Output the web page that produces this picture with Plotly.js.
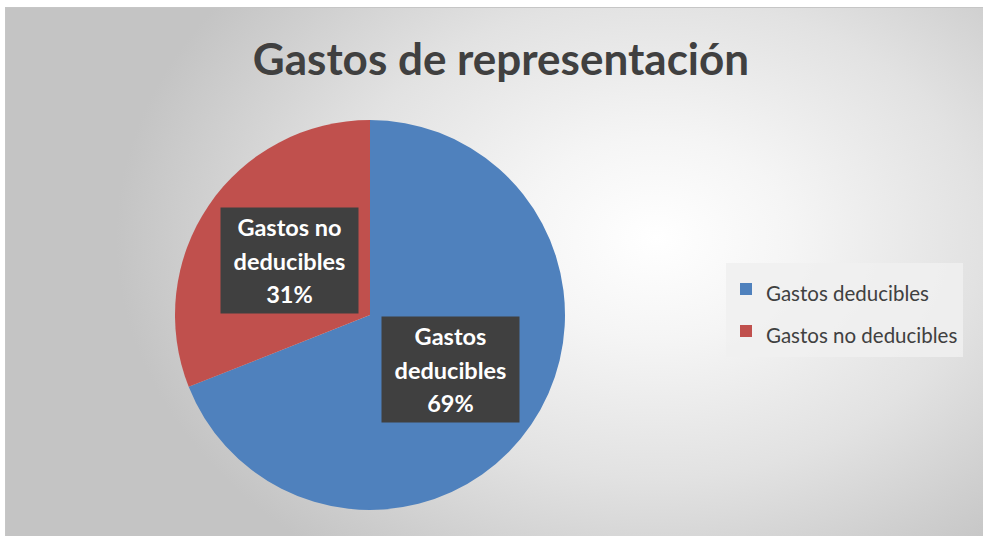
<!DOCTYPE html>
<html>
<head>
<meta charset="utf-8">
<script src="https://cdn.plot.ly/plotly-3.0.1.min.js"></script>
<style>
  html, body { margin: 0; padding: 0; background: #ffffff; }
  #bg {
    position: absolute; left: 5px; top: 7px; width: 978px; height: 529px;
    border-top: 1px solid #c6c6c6; border-left: 1px solid #c6c6c6;
    background: radial-gradient(ellipse 540px 400px at 650px 230px, #ffffff 0%, #f5f5f5 25%, #e2e2e2 60%, #cfcfcf 85%, #c4c4c4 100%);
  }
  #chart { position: absolute; left: 0; top: 0; width: 983px; height: 536px; }
</style>
</head>
<body>
<div id="bg"></div>
<div id="chart"></div>
<script>
// ---- data ----
const categories = ["Gastos deducibles", "Gastos no deducibles"];
const values = [69, 31];
const sliceColors = ["#4F81BD", "#C0504D"];
const chartTitle = "Gastos de representación";

// ---- layout geometry ----
const W = 983, H = 536;
const domX = [175 / W, 565 / W];
const domY = [26 / H, 416 / H];

const legendLabels = categories.map(c => '<span style="font-size:20.5px">' + c + '</span>');

const trace = {
  type: "pie",
  labels: legendLabels,
  values: values,
  sort: false,
  direction: "clockwise",
  rotation: 0,
  marker: { colors: sliceColors, line: { width: 0 } },
  textinfo: "none",
  hoverinfo: "none",
  domain: { x: domX, y: domY },
  showlegend: true
};

// label annotations placed at half radius along each slice's mid-angle
const total = values.reduce((a, b) => a + b, 0);
const cxPx = (domX[0] + domX[1]) / 2 * W;
const cyPx = (domY[0] + domY[1]) / 2 * H;
const R = Math.min((domX[1] - domX[0]) * W, (domY[1] - domY[0]) * H) / 2;
let cum = 0;
const annotations = [];
values.forEach((v, i) => {
  const mid = (cum + v / 2) / total * 2 * Math.PI;
  cum += v;
  const px = cxPx + 0.5 * R * Math.sin(mid);
  const py = cyPx + 0.5 * R * Math.cos(mid);
  const pct = Math.round(v / total * 100) + "%";
  const words = categories[i].split(" ");
  let lines;
  if (words.length > 2) lines = [words.slice(0, 2).join(" "), words.slice(2).join(" "), pct];
  else lines = [words[0], words.slice(1).join(" "), pct];
  annotations.push({
    xref: "paper", yref: "paper",
    x: px / W, y: py / H,
    xanchor: "center", yanchor: "middle",
    showarrow: false,
    text: lines.map(l => '<span style="font-size:23.5px">' + l + '</span>').join("<br>"),
    font: { family: "Lato, 'Open Sans', sans-serif", size: 25.5, color: "#ffffff", weight: "bold" },
    bgcolor: "#404040",
    borderpad: 3,
    width: 131,
    height: 99,
    align: "center",
    valign: "middle"
  });
});

const layout = {
  width: W, height: H,
  margin: { l: 0, r: 0, t: 0, b: 0 },
  paper_bgcolor: "rgba(0,0,0,0)",
  plot_bgcolor: "rgba(0,0,0,0)",
  title: {
    text: "<b>" + chartTitle + "</b>",
    font: { family: "Lato, 'Open Sans', sans-serif", size: 44, color: "#404040" },
    x: 501 / W, xanchor: "center",
    y: 1 - 60 / H, yanchor: "middle"
  },
  legend: {
    x: 726 / W, xanchor: "left",
    y: 1 - 263 / H, yanchor: "top",
    bgcolor: "rgba(240,240,240,0.85)",
    font: { family: "Lato, 'Open Sans', sans-serif", size: 30, color: "#404040" },
    itemclick: false, itemdoubleclick: false,
    traceorder: "normal"
  },
  annotations: annotations,
  showlegend: true
};

Plotly.newPlot("chart", [trace], layout, { displayModeBar: false, staticPlot: true });
</script>
</body>
</html>
